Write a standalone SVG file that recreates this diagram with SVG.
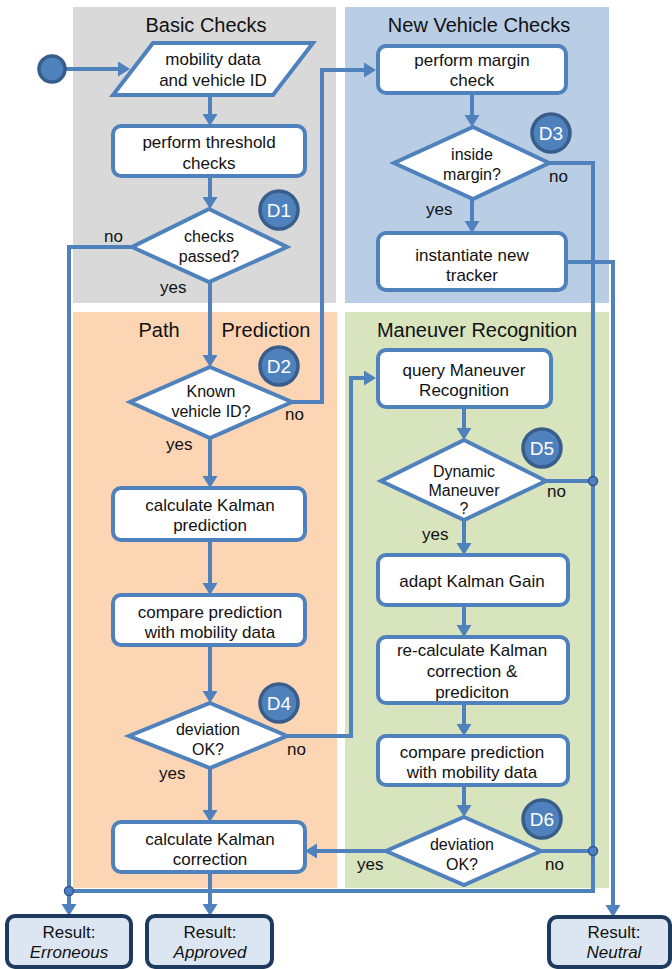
<svg xmlns="http://www.w3.org/2000/svg" width="672" height="969" viewBox="0 0 672 969">
<style>
text{font-family:"Liberation Sans",Arial,sans-serif;fill:#111}
.t{font-size:17px;text-anchor:middle}
.d{font-size:16px;text-anchor:middle}
.h{font-size:20px;text-anchor:middle}
.l{font-size:17px}
.bt{font-size:19px;text-anchor:middle;fill:#fff}
.box{fill:#fff;stroke:#4f81bd;stroke-width:4}
.res{fill:#dce6f2;stroke:#1f3a5f;stroke-width:4}
.badge{fill:#4f81bd;stroke:#385d8a;stroke-width:3.5}
.ln{fill:none;stroke:#4f81bd;stroke-width:4;stroke-linejoin:miter}
.ar{marker-end:url(#ah)}
.dot{fill:#4f81bd;stroke:#2f5597;stroke-width:1.5}
</style>
<defs>
<marker id="ah" markerUnits="userSpaceOnUse" markerWidth="14" markerHeight="16" refX="4" refY="7.5" orient="auto">
<path d="M0,0 L12,7.5 L0,15 z" fill="#4f81bd"/>
</marker>
</defs>
<g id="panels">
<rect x="73" y="7" width="263" height="296" fill="#d9d9d9"/>
<rect x="345" y="7" width="264" height="296" fill="#b9cde5"/>
<rect x="73" y="312" width="264" height="576" fill="#fcd5b5"/>
<rect x="345" y="312" width="264" height="576" fill="#d7e4bd"/>
<text class="h" x="206" y="32">Basic Checks</text>
<text class="h" x="479" y="32">New Vehicle Checks</text>
<text class="h" x="159" y="337">Path</text>
<text class="h" x="266" y="337">Prediction</text>
<text class="h" x="477" y="337">Maneuver Recognition</text>
</g>
<g id="connectors">
<path class="ln ar" d="M65,69 H122"/>
<path class="ln ar" d="M210,95 V118"/>
<path class="ln ar" d="M210,176 V201"/>
<path class="ln" d="M132,247 H69 V891"/>
<path class="ln ar" d="M69,891 V908"/>
<path class="ln ar" d="M210,282 V359"/>
<path class="ln ar" d="M292,402 H322 V70 H368"/>
<path class="ln ar" d="M472,93 V119"/>
<path class="ln" d="M549,163 H593 V891 H69"/>
<path class="ln ar" d="M472,199 V225"/>
<path class="ln ar" d="M566,262 H613 V909"/>
<path class="ln ar" d="M210,438 V480"/>
<path class="ln ar" d="M210,540 V587"/>
<path class="ln ar" d="M210,645 V695"/>
<path class="ln ar" d="M287,736 H351 V378 H368"/>
<path class="ln ar" d="M210,768 V814"/>
<path class="ln ar" d="M210,872 V908"/>
<path class="ln ar" d="M464,407 V432"/>
<path class="ln" d="M546,481 H593"/>
<path class="ln ar" d="M464,520 V547"/>
<path class="ln ar" d="M464,605 V629"/>
<path class="ln ar" d="M464,703 V728"/>
<path class="ln ar" d="M464,785 V809"/>
<path class="ln ar" d="M386,851 H313"/>
<path class="ln" d="M541,851 H593"/>
<circle class="dot" cx="69" cy="891" r="4.5"/>
<circle class="dot" cx="593" cy="481" r="4.5"/>
<circle class="dot" cx="593" cy="851" r="4.5"/>
<text class="l" x="104" y="242">no</text>
<text class="l" x="160" y="293">yes</text>
<text class="l" x="285" y="420">no</text>
<text class="l" x="166" y="450">yes</text>
<text class="l" x="549" y="182">no</text>
<text class="l" x="426" y="215">yes</text>
<text class="l" x="547" y="497">no</text>
<text class="l" x="422" y="540">yes</text>
<text class="l" x="287" y="755">no</text>
<text class="l" x="159" y="779">yes</text>
<text class="l" x="357" y="870">yes</text>
<text class="l" x="545" y="870">no</text>
</g>
<g id="start"><circle cx="52" cy="69" r="13" fill="#4f81bd" stroke="#385d8a" stroke-width="3.5"/></g>
<g id="input">
<polygon class="box" points="153,43 313,43 273,95 113,95"/>
<text class="t" x="213" y="65">mobility data</text>
<text class="t" x="213" y="86">and vehicle ID</text>
</g>
<g id="threshold">
<rect class="box" x="113" y="126" width="192" height="50" rx="8"/>
<text class="t" x="209" y="148">perform threshold</text>
<text class="t" x="209" y="169">checks</text>
</g>
<g id="d1">
<polygon class="box" points="209,209 287,247 209,282 132,247"/>
<text class="d" x="209" y="242">checks</text>
<text class="d" x="209" y="262">passed?</text>
<circle class="badge" cx="279" cy="210" r="19"/>
<text class="bt" x="279" y="217">D1</text>
</g>
<g id="margin">
<rect class="box" x="378" y="46" width="188" height="47" rx="8"/>
<text class="t" x="472" y="66">perform margin</text>
<text class="t" x="472" y="86">check</text>
</g>
<g id="d3">
<polygon class="box" points="473,127 549,163 473,199 394,163"/>
<text class="d" x="472" y="160">inside</text>
<text class="d" x="472" y="180">margin?</text>
<circle class="badge" cx="551" cy="133" r="19"/>
<text class="bt" x="551" y="140">D3</text>
</g>
<g id="instantiate">
<rect class="box" x="378" y="233" width="188" height="57" rx="8"/>
<text class="t" x="472" y="261">instantiate new</text>
<text class="t" x="472" y="281">tracker</text>
</g>
<g id="d2">
<polygon class="box" points="210,367 292,402 210,438 130,402"/>
<text class="d" x="211" y="397">Known</text>
<text class="d" x="211" y="417">vehicle ID?</text>
<circle class="badge" cx="279" cy="366" r="19"/>
<text class="bt" x="279" y="373">D2</text>
</g>
<g id="kpred">
<rect class="box" x="113" y="488" width="192" height="52" rx="8"/>
<text class="t" x="210" y="511">calculate Kalman</text>
<text class="t" x="210" y="531">prediction</text>
</g>
<g id="compare1">
<rect class="box" x="113" y="595" width="192" height="50" rx="8"/>
<text class="t" x="210" y="618">compare prediction</text>
<text class="t" x="210" y="638">with mobility data</text>
</g>
<g id="d4">
<polygon class="box" points="210,703 287,736 210,768 129,736"/>
<text class="d" x="208" y="735">deviation</text>
<text class="d" x="208" y="755">OK?</text>
<circle class="badge" cx="279" cy="703" r="19"/>
<text class="bt" x="279" y="710">D4</text>
</g>
<g id="kcorr">
<rect class="box" x="113" y="822" width="192" height="50" rx="8"/>
<text class="t" x="210" y="845">calculate Kalman</text>
<text class="t" x="210" y="865">correction</text>
</g>
<g id="query">
<rect class="box" x="378" y="350" width="173" height="57" rx="8"/>
<text class="t" x="464" y="376">query Maneuver</text>
<text class="t" x="464" y="396">Recognition</text>
</g>
<g id="d5">
<polygon class="box" points="464,440 546,481 464,520 381,481"/>
<text class="d" x="464" y="477">Dynamic</text>
<text class="d" x="464" y="496">Maneuver</text>
<text class="d" x="464" y="514">?</text>
<circle class="badge" cx="542" cy="448" r="19"/>
<text class="bt" x="542" y="455">D5</text>
</g>
<g id="gain">
<rect class="box" x="378" y="555" width="190" height="50" rx="8"/>
<text class="t" x="472" y="587">adapt Kalman Gain</text>
</g>
<g id="recalc">
<rect class="box" x="378" y="637" width="190" height="66" rx="8"/>
<text class="t" x="472" y="656">re-calculate Kalman</text>
<text class="t" x="472" y="677">correction &amp;</text>
<text class="t" x="472" y="698">prediciton</text>
</g>
<g id="compare2">
<rect class="box" x="378" y="736" width="190" height="49" rx="8"/>
<text class="t" x="472" y="758">compare prediction</text>
<text class="t" x="472" y="778">with mobility data</text>
</g>
<g id="d6">
<polygon class="box" points="464,817 541,851 464,885 386,851"/>
<text class="d" x="462" y="850">deviation</text>
<text class="d" x="462" y="870">OK?</text>
<circle class="badge" cx="542" cy="819" r="19"/>
<text class="bt" x="542" y="826">D6</text>
</g>
<g id="erroneous">
<rect class="res" x="7" y="916" width="124" height="51" rx="8"/>
<text class="t" x="69" y="938">Result:</text>
<text class="t" x="69" y="958" font-style="italic">Erroneous</text>
</g>
<g id="approved">
<rect class="res" x="147" y="916" width="125" height="51" rx="8"/>
<text class="t" x="210" y="938">Result:</text>
<text class="t" x="210" y="958" font-style="italic">Approved</text>
</g>
<g id="neutral">
<rect class="res" x="549" y="917" width="121" height="50" rx="8"/>
<text class="t" x="614" y="938">Result:</text>
<text class="t" x="614" y="958" font-style="italic">Neutral</text>
</g>
</svg>
